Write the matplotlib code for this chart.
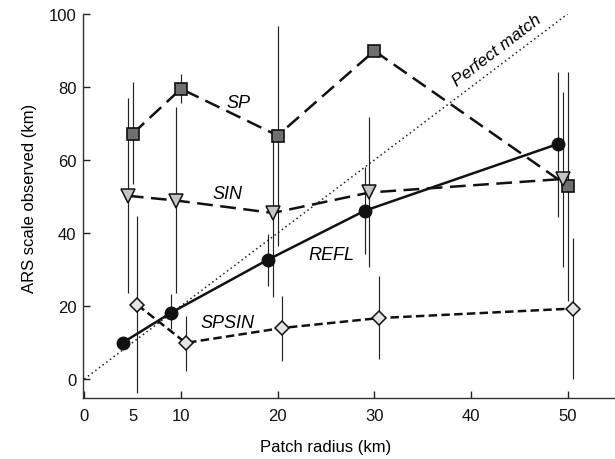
import matplotlib
matplotlib.use("Agg")
import matplotlib.pyplot as plt
import numpy as np

plt.rcParams['font.family'] = ['Liberation Sans', 'DejaVu Sans']

# ---- data ----
refl_x = [4, 9, 19, 29, 49]
refl_y = [10.0, 18.2, 32.7, 46.1, 64.4]
refl_lo = [9.0, 13.7, 25.6, 34.2, 44.3]
refl_hi = [11.0, 23.3, 39.7, 58.0, 84.2]

sp_x = [5, 10, 20, 30, 50]
sp_y = [67.2, 79.5, 66.7, 89.9, 52.9]
sp_lo = [53.4, 75.6, 36.5, 89.9, 21.5]
sp_hi = [81.3, 83.5, 96.8, 89.9, 84.2]

sin_x = [4.5, 9.5, 19.5, 29.5, 49.5]
sin_y = [50.2, 48.9, 45.5, 51.1, 54.8]
sin_lo = [23.7, 23.7, 22.4, 30.6, 30.6]
sin_hi = [76.9, 74.4, 68.5, 71.7, 78.7]

spsin_x = [5.5, 10.5, 20.5, 30.5, 50.5]
spsin_y = [20.3, 9.9, 14.0, 16.7, 19.3]
spsin_lo = [-3.7, 2.3, 5.0, 5.5, 0.0]
spsin_hi = [44.7, 17.3, 22.8, 28.3, 38.5]

pm_x = [0, 50]
pm_y = [0, 100]

xticks = [0, 5, 10, 20, 30, 40, 50]
yticks = [0, 20, 40, 60, 80, 100]

# ---- figure ----
fig = plt.figure(figsize=(6.15, 4.6), dpi=100)
ax = fig.add_axes([0.1355, 0.1326, 0.8646, 0.8348])

def errs(y, lo, hi):
    y = np.asarray(y); lo = np.asarray(lo); hi = np.asarray(hi)
    return [y - lo, hi - y]

for x, y, lo, hi in [(sin_x, sin_y, sin_lo, sin_hi),
                     (sp_x, sp_y, sp_lo, sp_hi),
                     (refl_x, refl_y, refl_lo, refl_hi),
                     (spsin_x, spsin_y, spsin_lo, spsin_hi)]:
    ax.errorbar(x, y, yerr=errs(y, lo, hi), fmt='none', ecolor='#222222',
                elinewidth=0.85, capsize=0, zorder=1)

ax.plot(pm_x, pm_y, color='#222222', lw=1.1, linestyle=(0, (1, 2.0)), zorder=2)

ax.plot(sp_x, sp_y, color='#111111', lw=1.8, dashes=(6.3, 3.0),
        marker='s', ms=8, mfc='#6f6f6f', mec='#111111', mew=1.2, zorder=4)
ax.plot(sin_x, sin_y, color='#111111', lw=1.8, dashes=(6.3, 3.0),
        marker='v', ms=9.5, mfc='#c4c4c4', mec='#111111', mew=1.1, zorder=4)
ax.plot(spsin_x, spsin_y, color='#111111', lw=1.8, dashes=(3.4, 1.7),
        marker='D', ms=7.3, mfc='#e4e4e4', mec='#111111', mew=1.1, zorder=4)
ax.plot(refl_x, refl_y, color='#111111', lw=1.8, linestyle='-',
        marker='o', ms=9, mfc='#111111', mec='#111111', zorder=5)

# labels inside the plot
ax.text(16.0, 75.8, 'SP', style='italic', fontsize=13, ha='center', va='center')
ax.text(14.8, 50.7, 'SIN', style='italic', fontsize=13, ha='center', va='center')
ax.text(25.6, 34.2, 'REFL', style='italic', fontsize=13, ha='center', va='center')
ax.text(14.8, 15.4, 'SPSIN', style='italic', fontsize=13, ha='center', va='center')
ax.text(42.7, 90.3, 'Perfect match', style='italic', fontsize=12.5,
        ha='center', va='center', rotation=37.5, rotation_mode='anchor')

ax.set_xlim(-0.1, 54.9)
ax.set_ylim(-5.2, 100)
ax.set_xticks(xticks)
ax.set_xticklabels([str(t) for t in xticks])
ax.set_yticks(yticks)
ax.get_xaxis().get_major_ticks()[1].tick1line.set_visible(False)
ax.tick_params(axis='x', direction='in', length=5, width=1.0, labelsize=12, pad=7.5, colors='#222222')
ax.tick_params(axis='y', direction='in', length=5, width=1.0, labelsize=12, pad=5, colors='#222222')
for lab in ax.get_xticklabels() + ax.get_yticklabels():
    lab.set_color('#111111')

for s in ['top', 'right']:
    ax.spines[s].set_visible(False)
for s in ['left', 'bottom']:
    ax.spines[s].set_linewidth(1.0)
    ax.spines[s].set_color('#333333')

ax.set_xlabel('Patch radius (km)', fontsize=12)
ax.set_ylabel('ARS scale observed (km)', fontsize=12)
ax.xaxis.set_label_coords(0.456, -0.107)
ax.yaxis.set_label_coords(-0.088, 0.522)

fig.savefig('out.png', dpi=100)
